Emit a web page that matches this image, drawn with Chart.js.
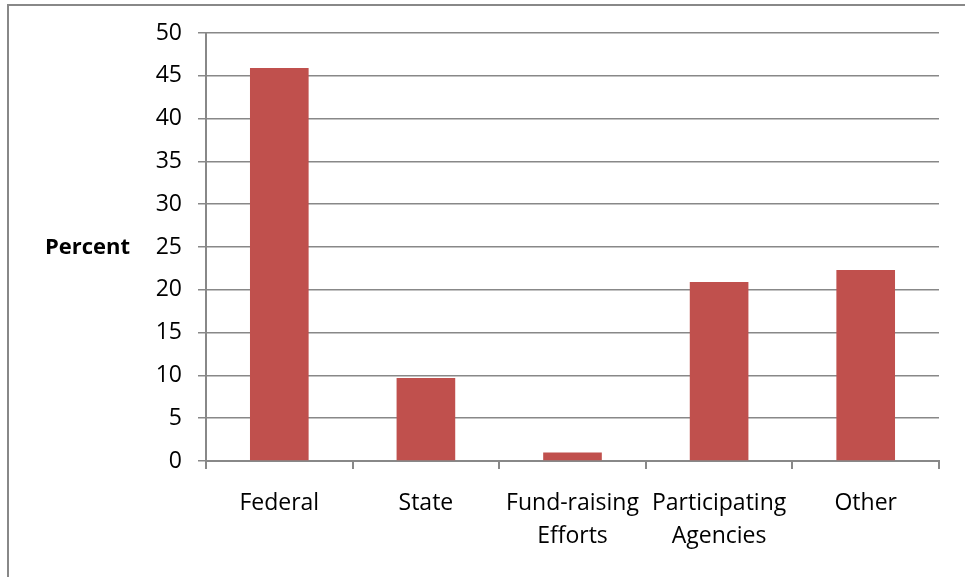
<!DOCTYPE html>
<html>
<head>
<meta charset="utf-8">
<script src="https://cdn.jsdelivr.net/npm/chart.js@4.4.0/dist/chart.umd.min.js"></script>
<style>
  html, body { margin: 0; padding: 0; background: #fff; }
  #wrap { position: relative; width: 965px; height: 577px; }
</style>
</head>
<body>
<div id="wrap"><canvas id="fundChart" width="965" height="577"></canvas></div>
<script>
// Funding sources, percent of total
const categories = ['Federal', 'State', ['Fund-raising', 'Efforts'], ['Participating', 'Agencies'], 'Other'];
const percentValues = [45.9, 9.7, 1.0, 20.9, 22.3];
const yTicks = [0, 5, 10, 15, 20, 25, 30, 35, 40, 45, 50];

const axisGray = '#888888';
const barRed = '#c0504d';

// outer frame and horizontal "Percent" label
const framePlugin = {
    id: 'frame',
    beforeDraw(chart) {
        const ctx = chart.ctx;
        ctx.save();
        ctx.strokeStyle = axisGray;
        ctx.lineWidth = 2;
        ctx.strokeRect(8, 5, 1200, 1200);
        ctx.restore();
    },
    afterDraw(chart) {
        const ctx = chart.ctx;
        const a = chart.chartArea;
        ctx.save();
        ctx.fillStyle = '#000';
        ctx.font = 'bold 22px "Open Sans"';
        ctx.textAlign = 'right';
        ctx.textBaseline = 'middle';
        ctx.fillText('Percent', 130, (a.top + a.bottom) / 2 + 1);
        ctx.restore();
    }
};

new Chart(document.getElementById('fundChart'), {
    type: 'bar',
    data: {
        labels: categories,
        datasets: [{
            label: 'Percent',
            data: percentValues,
            backgroundColor: barRed,
            barPercentage: 0.4,
            categoryPercentage: 1.0
        }]
    },
    options: {
        responsive: false,
        animation: false,
        layout: { padding: { left: 0, right: 26, top: 33, bottom: 0 } },
        plugins: {
            legend: { display: false },
            tooltip: { enabled: false }
        },
        scales: {
            x: {
                grid: {
                    offset: true,
                    drawOnChartArea: false,
                    drawTicks: true,
                    tickLength: 8,
                    color: axisGray,
                    lineWidth: 2
                },
                border: { color: axisGray, width: 2 },
                ticks: {
                    color: '#000',
                    maxRotation: 0,
                    autoSkip: false,
                    padding: 18,
                    font: { family: 'Open Sans', size: 23, lineHeight: 1.43 }
                },
                afterFit(s) { s.height = 116; }
            },
            y: {
                min: 0,
                max: 50,
                afterBuildTicks(s) { s.ticks = yTicks.map(v => ({ value: v })); },
                grid: {
                    color: axisGray,
                    lineWidth: 1.5,
                    tickLength: 8
                },
                border: { color: axisGray, width: 2 },
                ticks: {
                    color: '#000',
                    padding: 16,
                    font: { family: 'Open Sans', size: 23 }
                },
                afterFit(s) { s.width = 206; }
            }
        }
    },
    plugins: [framePlugin]
});
</script>
</body>
</html>
